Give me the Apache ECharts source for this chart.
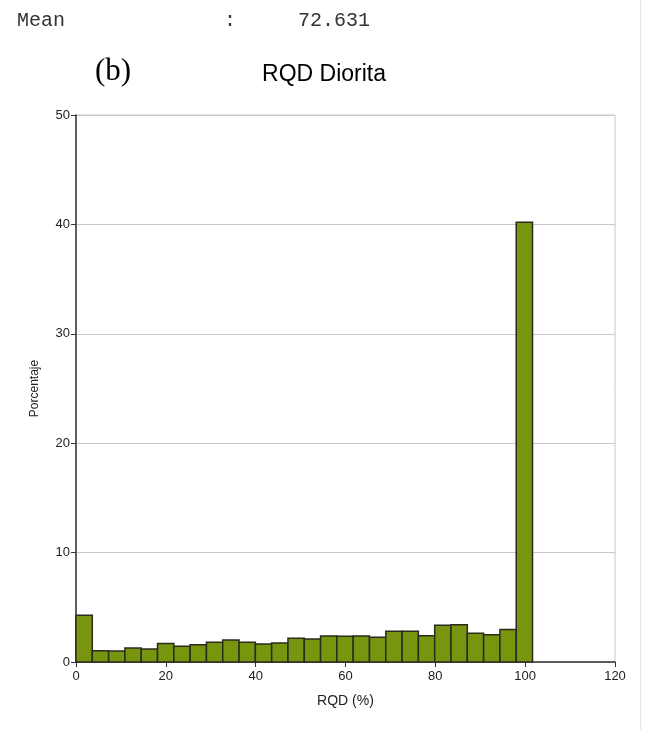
<!DOCTYPE html>
<html>
<head>
<meta charset="utf-8">
<script src="https://cdn.jsdelivr.net/npm/echarts@6/dist/echarts.min.js"></script>
<style>
html,body{margin:0;padding:0;background:#fff;}
#chart{width:645px;height:730px;}
</style>
</head>
<body>
<div id="chart"></div>
<script>
// Histogram data (percent per RQD bin)
const binWidth = 3.63;
const percentages = [4.27, 1.03, 1.0, 1.28, 1.19, 1.68, 1.43, 1.58, 1.80, 2.01,
                     1.80, 1.65, 1.74, 2.16, 2.10, 2.38, 2.35, 2.38, 2.26, 2.80,
                     2.80, 2.41, 3.35, 3.41, 2.62, 2.50, 2.96, 40.2];
const xTicks = [0, 20, 40, 60, 80, 100, 120];
const yTicks = [0, 10, 20, 30, 40, 50];
const meanLabel = 'Mean';
const meanValue = '72.631';
const panelLabel = '(b)';
const titleText = 'RQD Diorita';

const seriesData = percentages.map((v, i) => [i * binWidth, (i + 1) * binWidth, v]);

const monoFont = '20px "Liberation Mono", "Courier New", monospace';
const chart = echarts.init(document.getElementById('chart'), null, {renderer: 'canvas'});
chart.setOption({
  animation: false,
  backgroundColor: '#ffffff',
  title: {
    text: titleText,
    left: 319, top: 58, textAlign: 'center',
    textStyle: {fontFamily: 'Liberation Sans, Arial', fontSize: 23, fontWeight: 'normal', color: '#000'}
  },
  graphic: [
    {type: 'text', left: 17, top: 11, style: {text: meanLabel, font: monoFont, fill: '#333'}},
    {type: 'text', left: 224, top: 11, style: {text: ':', font: monoFont, fill: '#333'}},
    {type: 'text', left: 298, top: 11, style: {text: meanValue, font: monoFont, fill: '#333'}},
    {type: 'text', left: 95, top: 56, style: {text: panelLabel, font: '31px "Liberation Serif", "DejaVu Serif", serif', fill: '#000'}},
    {type: 'line', shape: {x1: 640.5, y1: 0, x2: 640.5, y2: 730}, style: {stroke: '#e6e6e6', lineWidth: 1}}
  ],
  grid: {left: 76, right: 30, top: 115, bottom: 68, show: true, borderColor: '#c8c8c8', borderWidth: 1},
  xAxis: {
    type: 'value', min: xTicks[0], max: xTicks[xTicks.length - 1], interval: 20,
    name: 'RQD (%)', nameLocation: 'middle', nameGap: 32,
    nameTextStyle: {fontFamily: 'Liberation Sans, Arial', fontSize: 14, color: '#222'},
    axisLine: {show: true, onZero: false, lineStyle: {color: '#333', width: 1.5}},
    axisTick: {show: true, length: 5, lineStyle: {color: '#333'}},
    axisLabel: {fontFamily: 'Liberation Sans, Arial', fontSize: 13, color: '#222', margin: 8},
    splitLine: {show: false}
  },
  yAxis: {
    type: 'value', min: yTicks[0], max: yTicks[yTicks.length - 1], interval: 10,
    name: 'Porcentaje', nameLocation: 'middle', nameGap: 35, nameRotate: 90,
    nameTextStyle: {fontFamily: 'Liberation Sans, Arial', fontSize: 12, color: '#222'},
    axisLine: {show: true, onZero: false, lineStyle: {color: '#333', width: 1.5}},
    axisTick: {show: true, length: 5, lineStyle: {color: '#333'}},
    axisLabel: {fontFamily: 'Liberation Sans, Arial', fontSize: 13, color: '#222', margin: 6},
    splitLine: {show: true, lineStyle: {color: '#c8c8c8', width: 1}}
  },
  series: [{
    type: 'custom',
    data: seriesData,
    encode: {x: [0, 1], y: 2},
    renderItem: function (params, api) {
      const p0 = api.coord([api.value(0), api.value(2)]);
      const p1 = api.coord([api.value(1), 0]);
      return {
        type: 'rect',
        shape: {x: p0[0], y: p0[1], width: p1[0] - p0[0], height: p1[1] - p0[1]},
        style: {fill: '#78950f', stroke: '#2b2b1e', lineWidth: 1.5}
      };
    }
  }]
});
</script>
</body>
</html>
